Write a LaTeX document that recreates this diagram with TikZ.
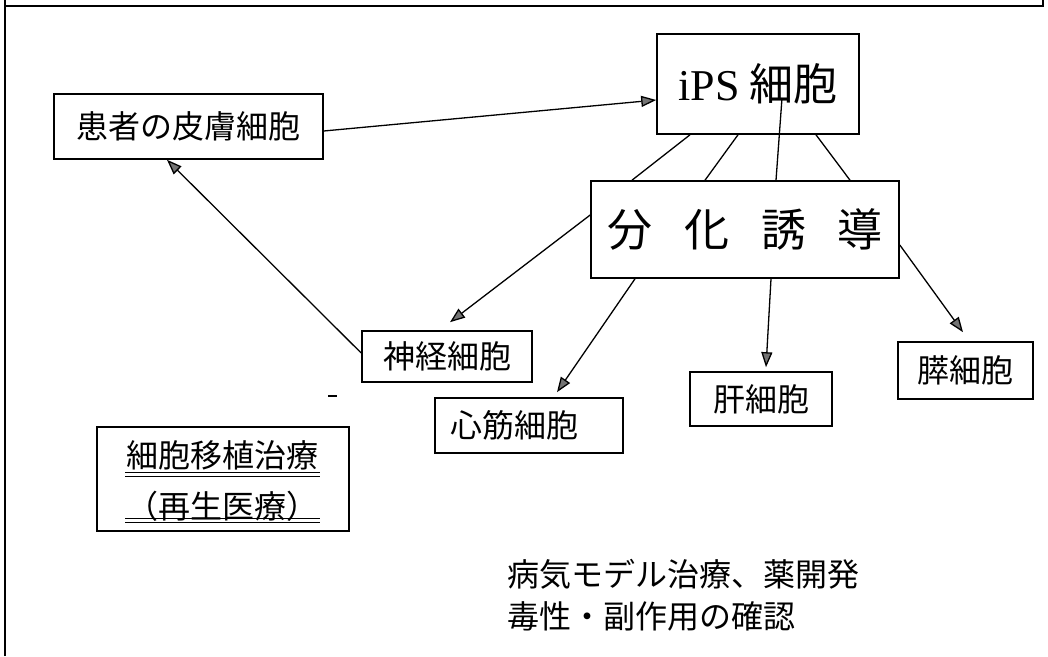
\documentclass[tikz,border=0pt]{standalone}
\usepackage{fontspec}
\setmainfont{Noto Sans CJK JP}
\newfontfamily\latserif{Liberation Serif}
\usetikzlibrary{arrows.meta,calc}
\begin{document}
\begin{tikzpicture}[x=1pt,y=1pt,
  box/.style={draw,line width=1.6pt,inner sep=0pt,font=\fontsize{32}{36}\selectfont},
  txt/.style={inner sep=0pt,font=\fontsize{32}{36}\selectfont},
  link/.style={line width=1.3pt},
  arr/.style={line width=1.3pt,-{Triangle[length=15pt,width=11pt,fill=black!55]}},
  uline/.style={line width=0.9pt},
  frame/.style={line width=1.6pt}
]
\useasboundingbox (0,0) rectangle (1048,656);
% frame
\draw[frame] (5,0) -- (5,656);
\draw[frame] (5,650) -- (1043,650) -- (1043,656);
% nodes
\node[box,minimum width=202pt,minimum height=100pt,font=\fontsize{44}{50}\selectfont] (ips) at (758,572) {{\latserif iPS} 細胞};
\node[box,minimum width=308pt,minimum height=97pt,font=\fontsize{45}{50}\selectfont] (bunka) at (745,426.5) {分\hspace{32pt}化\hspace{32pt}誘\hspace{32pt}導};
\node[box,minimum width=269pt,minimum height=65pt] (kanja) at (188.5,529.5) {患者の皮膚細胞};
\node[box,minimum width=170pt,minimum height=51pt] (shinkei) at (447,299.5) {神経細胞};
\node[box,minimum width=188pt,minimum height=55pt] (shinkin) at (529,230.5) {心筋細胞\hspace*{29pt}};
\node[box,minimum width=142pt,minimum height=54pt] (kan) at (761,257) {肝細胞};
\node[box,minimum width=135pt,minimum height=57pt] (sui) at (965.5,285.5) {膵細胞};
\node[box,minimum width=252pt,minimum height=104pt] (iseki) at (223,177) {};
\node[txt] (iseki1) at (222,201) {細胞移植治療};
\node[txt] (iseki2) at (222,150) {（再生医療）};
\draw[uline] (125,184) -- (320,184);
\draw[uline] (125,180) -- (320,180);
\draw[uline] (125,138) -- (320,138);
\draw[uline] (125,134) -- (320,134);
\node[txt,anchor=west] (note1) at (507,82) {病気モデル治療、薬開発};
\node[txt,anchor=west] (note2) at (507,40) {毒性・副作用の確認};
\draw[line width=1.2pt] (328,260) -- (337,260);
% connectors
\draw[arr] ([yshift=-4.5pt]kanja.east) -- ([yshift=-16pt]ips.west);
\draw[arr] ([yshift=3.5pt]shinkei.west) -- ([xshift=-21.5pt]kanja.south);
\draw[link] ([xshift=-68pt]ips.south) -- ([xshift=-113pt]bunka.north);
\draw[link] ([xshift=-20pt]ips.south) -- ([xshift=-40pt]bunka.north);
\draw[link] ([xshift=24pt,yshift=-14pt]ips.center) -- ([xshift=31pt]bunka.north);
\draw[link] ([xshift=58pt]ips.south) -- ([xshift=105pt]bunka.north);
\draw[arr] ([yshift=14.5pt]bunka.west) -- ([xshift=3pt,yshift=8pt]shinkei.north);
\draw[arr] ([xshift=-110pt]bunka.south) -- ([xshift=28pt,yshift=5pt]shinkin.north);
\draw[arr] ([xshift=26pt]bunka.south) -- ([xshift=5pt,yshift=4pt]kan.north);
\draw[arr] ([yshift=-15.5pt]bunka.east) -- ([xshift=-2.5pt,yshift=9pt]sui.north);
\end{tikzpicture}
\end{document}
